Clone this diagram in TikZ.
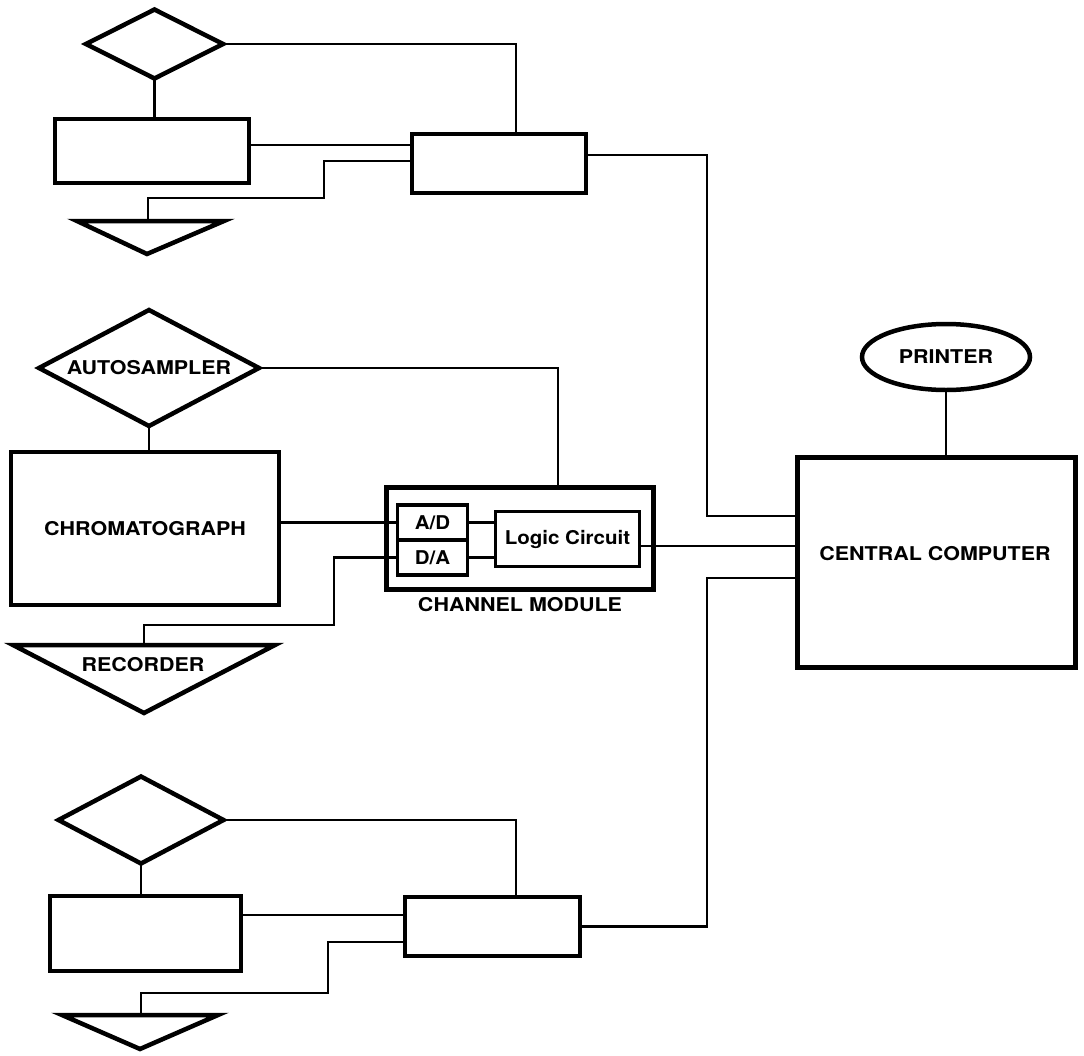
\documentclass[tikz,border=0pt]{standalone}
\usepackage{fontspec}
\usepackage{graphicx}
\setmainfont{TeX Gyre Heros}
\usetikzlibrary{shapes.geometric,calc}
\newcommand{\widelbl}[1]{\scalebox{1.13}[1]{#1}}
\newcommand{\smalllbl}[1]{\scalebox{1.08}[1]{#1}}
\begin{document}
\begin{tikzpicture}[x=1pt,y=-1pt,
  font=\fontsize{19}{21}\selectfont\bfseries,
  shp/.style={draw, line width=4.5pt, inner sep=0pt, outer sep=0pt, fill=white},
  thinbox/.style={draw, line width=3.2pt, inner sep=0pt, outer sep=0pt},
  ln/.style={line width=2.8pt},
  tri/.style={draw, line width=4.5pt, fill=white, line join=miter}]
\useasboundingbox (0,0) rectangle (1084,1055);
\fill[white] (0,0) rectangle (1084,1055);

% ---------- top channel ----------
\node[shp, diamond, minimum width=137pt, minimum height=69pt] (d1) at (154.5,44) {};
\node[shp, minimum width=194pt, minimum height=64pt] (a1) at (152,151) {};
\node[shp, minimum width=174pt, minimum height=59pt] (b1) at (499,163.5) {};
\draw[tri] (77,221) -- (224,221) -- (147,254) -- cycle;
\coordinate (t1) at (148,219);

\draw[ln] (d1.east) -| ([xshift=17pt]b1.north);
\draw[ln] (d1.south) -- (d1.south |- a1.north);
\draw[ln] ([yshift=6pt]a1.east) -- ([yshift=6pt]a1.east -| b1.west);
\draw[ln] ([yshift=2.5pt]b1.west) -| (324,198) -| (t1);

% ---------- middle channel ----------
\node[shp, diamond, aspect=1.9, minimum width=220pt, minimum height=116pt] (d2) at (149,368) {\widelbl{AUTOSAMPLER}};
\node[shp, minimum width=268pt, minimum height=153pt] (chr) at (145,528.5) {\widelbl{CHROMATOGRAPH}};
\node[shp, line width=5pt, minimum width=267pt, minimum height=102pt] (mod) at (520,538.5) {};
\node[thinbox, minimum width=70pt, minimum height=35pt] (ad) at (432.5,522.5) {\smalllbl{A/D}};
\node[thinbox, minimum width=70pt, minimum height=35pt] (da) at (432.5,557.5) {\smalllbl{D/A}};
\node[thinbox, minimum width=144pt, minimum height=55pt] (logic) at (567.5,539) {\smalllbl{Logic Circuit}};
\node (modlbl) at (520,605) {\widelbl{CHANNEL MODULE}};
\draw[tri] (13,645) -- (275,645) -- (144,713) -- cycle;
\coordinate (t2) at (144,643);
\node (rec) at (143,665) {\widelbl{RECORDER}};

\draw[ln] (d2.south) -- (d2.south |- chr.north);
\draw[ln] (d2.east) -| ([xshift=38pt]mod.north);
\draw[ln] (chr.east |- ad.west) -- (ad.west);
\draw[ln] (ad.east) -- (ad.east -| logic.west);
\draw[ln] (da.east) -- (da.east -| logic.west);
\draw[ln] (da.west) -| (334,625) -| (t2);

% ---------- central computer ----------
\node[shp, ellipse, minimum width=168pt, minimum height=66pt] (pr) at (946,357) {\widelbl{PRINTER}};
\node[shp, line width=5pt, minimum width=278pt, minimum height=210pt] (cc) at (936,562) {};
\node (cclbl) at (935,554) {\widelbl{CENTRAL COMPUTER}};
\draw[ln] (pr.south) -- (pr.south |- cc.north);

\coordinate (bus) at (707,0);
\coordinate (ccin1) at ([yshift=46pt]cc.west);
\coordinate (ccin3) at ([yshift=-16pt]cc.west);

% ---------- bottom channel ----------
\node[shp, diamond, minimum width=165pt, minimum height=87pt] (d3) at (141,820) {};
\node[shp, minimum width=191pt, minimum height=75pt] (c1) at (145.5,933.5) {};
\node[shp, minimum width=175pt, minimum height=59pt] (b3) at (492.5,926.5) {};
\draw[tri] (62,1015) -- (218,1015) -- (140,1049) -- cycle;
\coordinate (t3) at (141,1013);

\draw[ln] (d3.east) -| ([xshift=23.5pt]b3.north);
\draw[ln] (d3.south) -- (d3.south |- c1.north);
\draw[ln] ([yshift=18.5pt]c1.east) -- ([yshift=18.5pt]c1.east -| b3.west);
\draw[ln] ([yshift=-15.5pt]b3.west) -| (328,993) -| (t3);

% ---------- links to central computer ----------
\draw[ln] ([yshift=8.5pt]b1.east) -| (bus |- ccin1) -- (ccin1);
\draw[ln] ([yshift=-7pt]logic.east) -- ([yshift=-7pt]logic.east -| cc.west);
\draw[ln] (b3.east) -| (bus |- ccin3) -- (ccin3);
\end{tikzpicture}
\end{document}
